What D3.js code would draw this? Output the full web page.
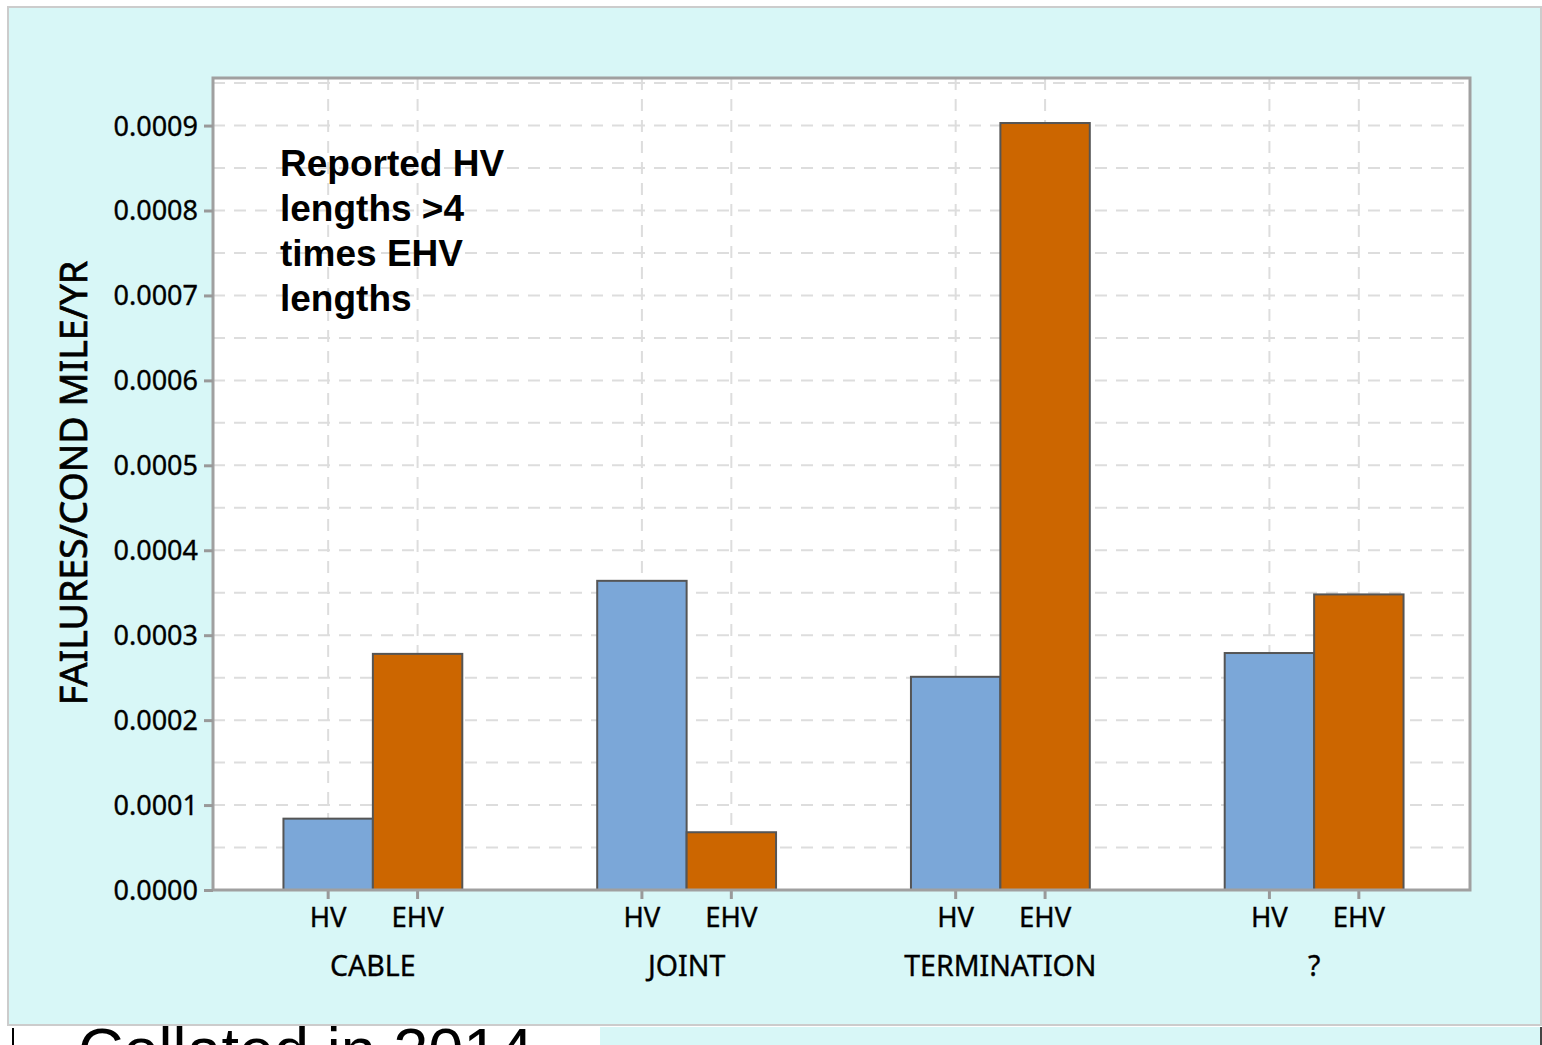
<!DOCTYPE html>
<html>
<head>
<meta charset="utf-8">
<script src="https://cdn.jsdelivr.net/npm/d3@7"></script>
<style>
  body { margin: 0; background: #fff; }
  svg { display: block; }
  .tick text { font-family: "Noto Sans", sans-serif; fill: #000; stroke: #000; stroke-width: 0.35; }
</style>
</head>
<body>
<svg width="1542" height="1045"></svg>
<script>
// groups along the x axis and the two voltage classes inside each
const categories = ['CABLE', 'JOINT', 'TERMINATION', '?'];
const seriesNames = ['HV', 'EHV'];
const hvValues = [0.000084, 0.000364, 0.000251, 0.000279];
const ehvValues = [0.000278, 0.000068, 0.000903, 0.000348];
const yTickValues = [0, 0.0001, 0.0002, 0.0003, 0.0004, 0.0005, 0.0006, 0.0007, 0.0008, 0.0009];
const yGridValues = d3.range(0, 0.00096, 0.00005);
const noteLines = ['Reported HV', 'lengths >4', 'times EHV', 'lengths'];

const seriesColors = { HV: '#7ba7d8', EHV: '#cc6600' };

const svg = d3.select('svg');
const margin = { left: 213, right: 72, top: 78, bottom: 155 };
const width = +svg.attr('width');
const height = +svg.attr('height');
const plotW = width - margin.left - margin.right;
const plotH = height - margin.top - margin.bottom;

// slide panel
svg.append('rect')
    .attr('x', 8).attr('y', 7).attr('width', 1533).attr('height', 1018)
    .attr('fill', '#d8f7f7').attr('stroke', '#cccccc').attr('stroke-width', 2);
svg.append('rect')
    .attr('x', 600).attr('y', 1027).attr('width', 941).attr('height', 20)
    .attr('fill', '#d8f7f7');
svg.append('line')
    .attr('x1', 13).attr('x2', 13).attr('y1', 1028).attr('y2', 1045)
    .attr('stroke', '#000').attr('stroke-width', 2);
svg.append('line')
    .attr('x1', 1541).attr('x2', 1541).attr('y1', 1027).attr('y2', 1045)
    .attr('stroke', '#444').attr('stroke-width', 2);
svg.append('text')
    .attr('x', 78).attr('y', 1072)
    .attr('font-family', 'Liberation Sans, Arial, sans-serif')
    .attr('font-size', 63)
    .text('Collated in 2014');

const g = svg.append('g').attr('transform', `translate(${margin.left},${margin.top})`);

const y = d3.scaleLinear().domain([0, 0.000956]).range([plotH, 0]);
const x0 = d3.scaleBand().domain(categories).range([3, plotW + 1])
    .paddingInner(0.43).paddingOuter(0.215);
const x1 = d3.scaleBand().domain(seriesNames).range([0, x0.bandwidth()]);

const rows = categories.map((c, i) => ({ category: c, HV: hvValues[i], EHV: ehvValues[i] }));

g.append('rect').attr('width', plotW).attr('height', plotH).attr('fill', '#fff');

// horizontal grid (major and half steps)
g.append('g').selectAll('line').data(yGridValues.slice(1)).join('line')
    .attr('x1', 0).attr('x2', plotW)
    .attr('y1', d => y(d)).attr('y2', d => y(d))
    .attr('stroke', '#dddddd').attr('stroke-width', 2).attr('stroke-dasharray', '12,9');

// vertical grid at every bar centre
const barCentres = [];
categories.forEach(c => seriesNames.forEach(s => barCentres.push(x0(c) + x1(s) + x1.bandwidth() / 2)));
g.append('g').selectAll('line').data(barCentres).join('line')
    .attr('x1', d => d).attr('x2', d => d)
    .attr('y1', 0).attr('y2', plotH)
    .attr('stroke', '#dddddd').attr('stroke-width', 2).attr('stroke-dasharray', '12,9');

// bars
const groups = g.append('g').selectAll('g').data(rows).join('g')
    .attr('transform', d => `translate(${x0(d.category)},0)`);
groups.selectAll('rect')
    .data(d => seriesNames.map(s => ({ key: s, value: d[s] })))
    .join('rect')
    .attr('x', d => x1(d.key))
    .attr('y', d => y(d.value))
    .attr('width', x1.bandwidth())
    .attr('height', d => plotH - y(d.value))
    .attr('fill', d => seriesColors[d.key])
    .attr('stroke', '#555555').attr('stroke-width', 2);

// frame
g.append('rect').attr('width', plotW).attr('height', plotH)
    .attr('fill', 'none').attr('stroke', '#a0a0a0').attr('stroke-width', 3);

// y axis
const yAxis = g.append('g')
    .call(d3.axisLeft(y).tickValues(yTickValues).tickFormat(d3.format('.4f')).tickSize(9).tickPadding(6));
yAxis.select('.domain').remove();
yAxis.selectAll('.tick line').attr('stroke', '#999').attr('stroke-width', 3);
yAxis.selectAll('.tick text').attr('font-size', 27).attr('dy', '0.35em');

// x axis: series ticks inside every group
groups.each(function () {
    const ax = d3.select(this).append('g')
        .attr('transform', `translate(0,${plotH})`)
        .call(d3.axisBottom(x1).tickSize(9).tickPadding(8));
    ax.select('.domain').remove();
    ax.selectAll('.tick line').attr('stroke', '#999').attr('stroke-width', 3);
    ax.selectAll('.tick text').attr('font-size', 27.5);
});

g.append('g').selectAll('text').data(categories).join('text')
    .attr('x', d => x0(d) + x0.bandwidth() / 2)
    .attr('y', plotH + 86)
    .attr('text-anchor', 'middle')
    .attr('font-family', 'Noto Sans, sans-serif')
    .attr('font-size', 28.5)
    .attr('stroke', '#000').attr('stroke-width', 0.35)
    .text(d => d);

// y title
svg.append('text')
    .attr('transform', 'translate(87,483) rotate(-90)')
    .attr('text-anchor', 'middle')
    .attr('font-family', 'Noto Sans, sans-serif')
    .attr('font-size', 37.5)
    .attr('stroke', '#000').attr('stroke-width', 0.7)
    .text('FAILURES/COND MILE/YR');

// note
svg.append('text')
    .attr('font-family', 'Liberation Sans, Arial, sans-serif')
    .attr('font-weight', 'bold')
    .attr('font-size', 37)
    .selectAll('tspan').data(noteLines).join('tspan')
    .attr('x', 280)
    .attr('y', (d, i) => 176 + i * 45)
    .text(d => d);
</script>
</body>
</html>
